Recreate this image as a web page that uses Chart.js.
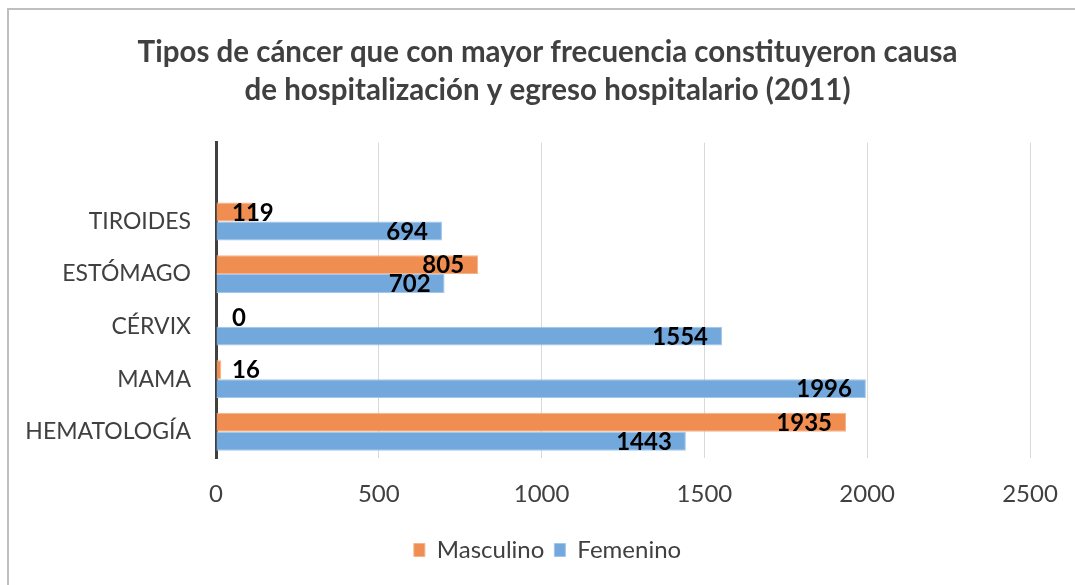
<!DOCTYPE html>
<html>
<head>
<meta charset="utf-8">
<script src="https://cdn.jsdelivr.net/npm/chart.js@4.4.1/dist/chart.umd.min.js"></script>
<style>
  html, body { margin: 0; padding: 0; background: #ffffff; }
  #wrap { width: 1075px; height: 585px; }
</style>
</head>
<body>
<div id="wrap"><canvas id="chart"></canvas></div>
<script>
// categories, top to bottom
var categories = ["TIROIDES", "ESTÓMAGO", "CÉRVIX", "MAMA", "HEMATOLOGÍA"];
var masculino = [119, 805, 0, 16, 1935];
var femenino = [694, 702, 1554, 1996, 1443];
var xTicks = [0, 500, 1000, 1500, 2000, 2500];

var TEXT_GREY = "#404040";

// blank row on top keeps the empty band above the first category
var rowLabels = [""].concat(categories);
var masculinoRows = [null].concat(masculino);
var femeninoRows = [null].concat(femenino);

// grey frame around the chart (only top and left edges fall inside the window)
var framePlugin = {
    id: "frame",
    beforeDraw: function(chart) {
        var ctx = chart.ctx;
        ctx.save();
        ctx.fillStyle = "#ffffff";
        ctx.fillRect(0, 0, chart.width, chart.height);
        ctx.strokeStyle = "#bfbfbf";
        ctx.lineWidth = 2;
        ctx.beginPath();
        ctx.moveTo(8, chart.height);
        ctx.lineTo(8, 9);
        ctx.lineTo(chart.width, 9);
        ctx.stroke();
        ctx.restore();
    }
};

// value labels at the inner end of each bar, pushed out past the base when the bar is short
var valueLabels = {
    id: "valueLabels",
    afterDatasetsDraw: function(chart) {
        var ctx = chart.ctx;
        var base = chart.scales.x.getPixelForValue(0);
        ctx.save();
        ctx.font = "bold 24px Lato";
        ctx.fillStyle = "#000000";
        ctx.textBaseline = "middle";
        chart.data.datasets.forEach(function(ds, i) {
            var meta = chart.getDatasetMeta(i);
            meta.data.forEach(function(bar, j) {
                var v = ds.data[j];
                if (v === null) return;
                var txt = String(v);
                var w = ctx.measureText(txt).width;
                var right = bar.x - 14;
                if (right - w < base + 16) right = base + 16 + w;
                ctx.textAlign = "right";
                ctx.fillText(txt, right, bar.y + 1);
            });
        });
        ctx.restore();
    }
};

new Chart(document.getElementById("chart"), {
    type: "bar",
    data: {
        labels: rowLabels,
        datasets: [
            {
                label: "Masculino",
                data: masculinoRows,
                backgroundColor: "#ef8e50",
                borderColor: "#f4b48a",
                borderWidth: 1,
                categoryPercentage: 0.72,
                barPercentage: 1.0
            },
            {
                label: "Femenino",
                data: femeninoRows,
                backgroundColor: "#72a8dc",
                borderColor: "#a3c6ea",
                borderWidth: 1,
                categoryPercentage: 0.72,
                barPercentage: 1.0
            }
        ]
    },
    options: {
        indexAxis: "y",
        responsive: true,
        maintainAspectRatio: false,
        animation: false,
        layout: { padding: { left: 20, right: 0, top: 0, bottom: 13 } },
        plugins: {
            title: {
                display: true,
                text: ["Tipos de cáncer que con mayor frecuencia constituyeron causa",
                       "de hospitalización y egreso hospitalario (2011)"],
                color: TEXT_GREY,
                font: { family: "Lato", size: 29.5, weight: "bold", lineHeight: 1.3 },
                padding: { top: 33, bottom: 33 }
            },
            legend: {
                position: "bottom",
                labels: {
                    color: TEXT_GREY,
                    font: { family: "Lato", size: 24 },
                    boxWidth: 11,
                    boxHeight: 13,
                    padding: 10
                }
            },
            tooltip: { enabled: false }
        },
        scales: {
            x: {
                min: 0,
                max: 2500,
                afterBuildTicks: function(scale) {
                    scale.ticks = xTicks.map(function(v) { return { value: v }; });
                },
                afterFit: function(scale) {
                    scale.height = 70;
                    scale.paddingRight = 45;
                },
                grid: { color: "#d9d9d9", lineWidth: 1, drawTicks: false },
                border: { display: false },
                ticks: {
                    color: TEXT_GREY,
                    font: { family: "Lato", size: 24 },
                    padding: 22,
                    callback: function(v) { return String(v); }
                }
            },
            y: {
                afterFit: function(scale) {
                    scale.width = 196;
                },
                grid: { display: false, drawTicks: false },
                border: { display: true, color: TEXT_GREY, width: 3 },
                ticks: {
                    color: TEXT_GREY,
                    font: { family: "Lato", size: 23 },
                    padding: 25
                }
            }
        }
    },
    plugins: [framePlugin, valueLabels]
});
</script>
</body>
</html>
